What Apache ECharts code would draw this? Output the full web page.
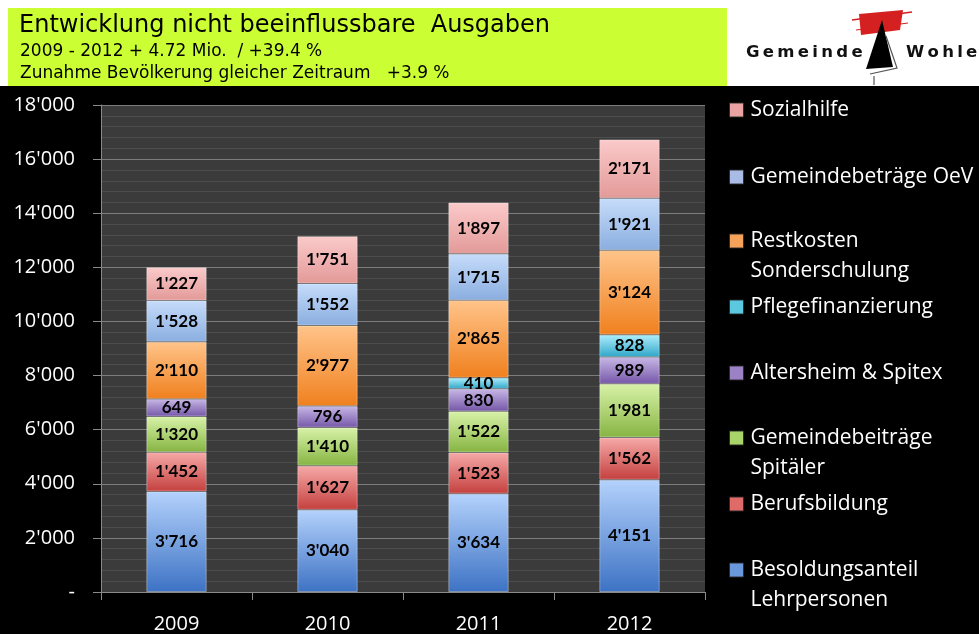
<!DOCTYPE html>
<html>
<head>
<meta charset="utf-8">
<script src="https://cdn.jsdelivr.net/npm/echarts@6/dist/echarts.min.js"></script>
<style>
  html, body { margin:0; padding:0; background:#000; }
  #chart { width:979px; height:634px; }
</style>
</head>
<body>
<div id="chart"></div>
<script>
var years = ['2009', '2010', '2011', '2012'];

// von unten nach oben gestapelt
var besoldung     = [3716, 3040, 3634, 4151];
var berufsbildung = [1452, 1627, 1523, 1562];
var spitaeler     = [1320, 1410, 1522, 1981];
var altersheim    = [649, 796, 830, 989];
var pflege        = [null, null, 410, 828];
var restkosten    = [2110, 2977, 2865, 3124];
var oev           = [1528, 1552, 1715, 1921];
var sozialhilfe   = [1227, 1751, 1897, 2171];

var seriesNames = ['Besoldungsanteil\nLehrpersonen', 'Berufsbildung', 'Gemeindebeiträge\nSpitäler',
  'Altersheim & Spitex', 'Pflegefinanzierung', 'Restkosten\nSonderschulung',
  'Gemeindebeträge OeV', 'Sozialhilfe'];
var seriesData = [besoldung, berufsbildung, spitaeler, altersheim, pflege, restkosten, oev, sozialhilfe];

// Farben: oben hell, unten dunkel
var gradients = [
  ['#b4d2fc', '#3d72c4'],
  ['#f6aaa8', '#c4403e'],
  ['#d8f2a8', '#86b442'],
  ['#c8b8e6', '#7556a8'],
  ['#aeeefc', '#2ea6c8'],
  ['#ffc48a', '#f0801e'],
  ['#c6dcfa', '#8aaee0'],
  ['#fbcaca', '#e29a98']
];
var iconColors = ['#6a98dc', '#e06a68', '#a8d46a', '#9a82c4', '#5cc8e0', '#f5a25a', '#a8bce6', '#eaa2a2'];
var legendTop = [555, 489, 423, 358, 292, 226, 162, 95];

function fmt(v) {
  return String(v).replace(/\B(?=(\d{3})+(?!\d))/g, "'");
}

var chart = echarts.init(document.getElementById('chart'));

var series = [];
var legends = [];
for (var i = 0; i < seriesNames.length; i++) {
  series.push({
    name: seriesNames[i],
    type: 'bar',
    stack: 'total',
    barWidth: '40%',
    data: seriesData[i],
    itemStyle: {
      color: new echarts.graphic.LinearGradient(0, 0, 0, 1, [
        {offset: 0, color: gradients[i][0]},
        {offset: 1, color: gradients[i][1]}
      ]),
      borderColor: 'rgba(255,255,255,0.35)',
      borderWidth: 1
    },
    label: {
      show: true,
      position: 'inside',
      color: '#000',
      fontFamily: 'Lato',
      fontWeight: 'bold',
      fontSize: 17,
      formatter: function (p) { return fmt(p.value); }
    }
  });
  // Symbol oben links, damit es bei zweizeiligen Namen auf der ersten Zeile sitzt
  var multi = seriesNames[i].indexOf('\n') >= 0;
  var h = multi ? 44 : 14;
  legends.push({
    data: [{
      name: seriesNames[i],
      icon: 'path://M0,0H14V14H0Z M15.9,' + (h - 0.1) + 'H16V' + h + 'H15.9Z',
      itemStyle: { color: iconColors[i], borderColor: 'rgba(40,40,40,0.9)', borderWidth: 1 }
    }],
    left: 729,
    top: legendTop[i],
    padding: 0,
    itemWidth: 16,
    itemHeight: h,
    selectedMode: false,
    textStyle: {
      color: '#fff',
      fontFamily: 'Open Sans',
      fontSize: 21,
      lineHeight: 30
    }
  });
}

chart.setOption({
  backgroundColor: '#000',
  animation: false,
  legend: legends,
  grid: {
    left: 101,
    right: 274,
    top: 105,
    bottom: 41,
    show: true,
    backgroundColor: '#3b3b3b',
    borderWidth: 0
  },
  xAxis: {
    type: 'category',
    data: years,
    axisLine: { lineStyle: { color: '#8a8a8a', width: 1 } },
    axisTick: { show: true, length: 8, lineStyle: { color: '#8a8a8a' } },
    axisLabel: { color: '#fff', fontFamily: 'Open Sans', fontSize: 20, margin: 22 }
  },
  yAxis: {
    type: 'value',
    min: 0,
    max: 18000,
    interval: 2000,
    axisLine: { show: true, lineStyle: { color: '#8a8a8a' } },
    axisTick: { show: true, length: 8, lineStyle: { color: '#8a8a8a' } },
    axisLabel: {
      color: '#fff', fontFamily: 'Open Sans', fontSize: 20, margin: 26,
      formatter: function (v) { return v === 0 ? '-' : fmt(v); }
    },
    splitLine: { lineStyle: { color: '#7c7c7c', width: 1 } },
    minorTick: { show: false, splitNumber: 5 },
    minorSplitLine: { show: true, lineStyle: { color: '#4d4d4d', width: 1 } }
  },
  series: series,
  graphic: [
    { type: 'rect', left: 0, top: 0, shape: { width: 979, height: 88 }, style: { fill: '#fff' }, z: -1 },
    { type: 'rect', left: 8, top: 8, shape: { width: 719, height: 79 }, style: { fill: '#ccff33' } },
    { type: 'rect', left: 0, top: 86, shape: { width: 979, height: 2 }, style: { fill: '#000' } },
    { type: 'text', style: { x: 19, y: 26, verticalAlign: 'middle', text: 'Entwicklung nicht beeinflussbare  Ausgaben', fill: '#000', font: '24px "DejaVu Sans"' } },
    { type: 'text', style: { x: 20, y: 52, verticalAlign: 'middle', text: '2009 - 2012 + 4.72 Mio.  / +39.4 %', fill: '#000', font: '17px "DejaVu Sans"' } },
    { type: 'text', style: { x: 20, y: 74, verticalAlign: 'middle', text: 'Zunahme Bevölkerung gleicher Zeitraum   +3.9 %', fill: '#000', font: '17px "DejaVu Sans"' } },
    // Logo
    { type: 'polygon', shape: { points: [[859, 14], [903, 10], [900, 30], [861, 35]] }, style: { fill: '#d42020' } },
    { type: 'polyline', shape: { points: [[852, 20], [912, 12]] }, style: { stroke: '#d42020', lineWidth: 1.5 } },
    { type: 'polyline', shape: { points: [[856, 30], [908, 23]] }, style: { stroke: '#d42020', lineWidth: 1 } },
    { type: 'polygon', shape: { points: [[882, 20], [866, 69], [893, 67]] }, style: { fill: '#000' } },
    { type: 'polyline', shape: { points: [[886, 36], [897, 68], [870, 74]] }, style: { stroke: '#555', lineWidth: 1.2, fill: null } },
    { type: 'polyline', shape: { points: [[874, 76], [874, 85]] }, style: { stroke: '#333', lineWidth: 1 } },
    { type: 'text', style: { x: 746, y: 53, verticalAlign: 'middle', text: 'G\u2009e\u2009m\u2009e\u2009i\u2009n\u2009d\u2009e', fill: '#111', font: 'bold 16.5px "DejaVu Sans"' } },
    { type: 'text', style: { x: 906, y: 53, verticalAlign: 'middle', text: 'W\u2009o\u2009h\u2009l\u2009e\u2009n', fill: '#111', font: 'bold 16.5px "DejaVu Sans"' } }
  ]
});
</script>
</body>
</html>
